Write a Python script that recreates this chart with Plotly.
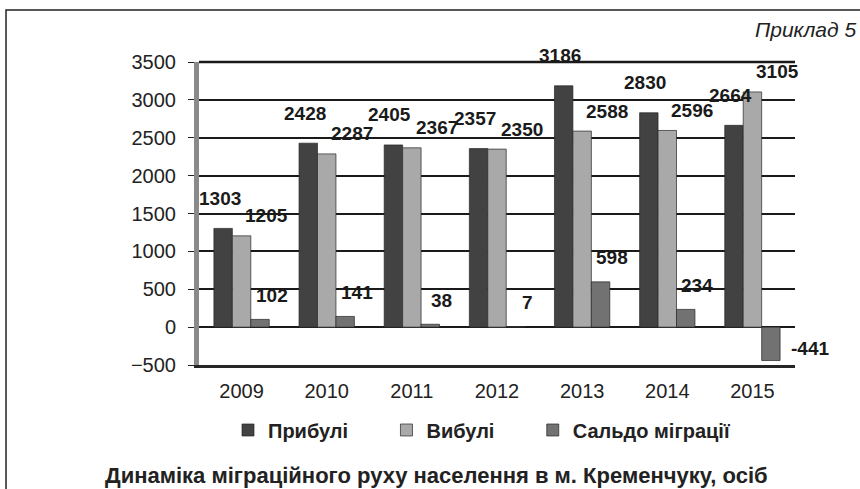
import plotly.graph_objects as go

years = ["2009", "2010", "2011", "2012", "2013", "2014", "2015"]
arrived = [1303, 2428, 2405, 2357, 3186, 2830, 2664]
departed = [1205, 2287, 2367, 2350, 2588, 2596, 3105]
balance = [102, 141, 38, 7, 598, 234, -441]
series_names = ["Прибулі", "Вибулі", "Сальдо міграції"]
y_ticks = [-500, 0, 500, 1000, 1500, 2000, 2500, 3000, 3500]

colors = ["#424242", "#a9a9a9", "#727272"]
label_shift = [(-22, 30), (25, 20), (30, 24)]  # (xshift, yshift) per series, px
FONT = "Liberation Sans, Arial, sans-serif"
PAD = "\u00a0" * 6

fig = go.Figure()
anns = []
for k, (name, vals, col) in enumerate(zip(series_names, [arrived, departed, balance], colors)):
    fig.add_trace(go.Bar(
        x=years, y=vals, name="<b>" + name + "</b>" + (PAD if k < 2 else ""),
        marker=dict(color=col, line=dict(color="#262626", width=0.7)),
        cliponaxis=False,
    ))
    dx, dy = label_shift[k]
    for i, v in enumerate(vals):
        if v >= 0:
            anns.append(dict(text="<b>%d</b>" % v, x=i, y=v, xref="x", yref="y",
                             xshift=dx, yshift=dy, showarrow=False,
                             xanchor="center", yanchor="middle",
                             font=dict(family=FONT, size=19, color="#1a1a1a")))
        else:
            anns.append(dict(text="<b>%d</b>" % v, x=i, y=v, xref="x", yref="y",
                             xshift=58, yshift=12, showarrow=False,
                             xanchor="center", yanchor="middle",
                             font=dict(family=FONT, size=19, color="#1a1a1a")))

anns += [
    dict(text="<i>Приклад 5</i>", xref="paper", yref="paper", x=1.1057, y=1.107,
         xanchor="right", yanchor="middle", showarrow=False,
         font=dict(family=FONT, size=21, color="#222")),
    dict(text="<b>Динаміка міграційного руху населення в м. Кременчуку, осіб</b>",
         xref="paper", yref="paper", x=0.398, y=-0.366, xanchor="center", yanchor="middle",
         showarrow=False, font=dict(family=FONT, size=22, color="#222")),
]

fig.update_layout(
    width=860, height=489,
    margin=dict(l=199, r=65, t=62, b=124),
    paper_bgcolor="white", plot_bgcolor="white",
    barmode="group", bargap=0.35, bargroupgap=0.0,
    font=dict(family=FONT, size=20, color="#222"),
    showlegend=True,
    legend=dict(orientation="h", x=0.474, xanchor="center", y=-0.2145, yanchor="middle",
                font=dict(family=FONT, size=20, color="#222"), itemwidth=30,
                traceorder="normal"),
    xaxis=dict(type="category", range=[-0.5, 6.5], showline=True, linecolor="#262626",
               linewidth=3, ticks="", tickfont=dict(size=20, color="#222"),
               ticklabelstandoff=6),
    yaxis=dict(range=[-500, 3500], tickvals=y_ticks, showgrid=True, gridcolor="#1a1a1a",
               gridwidth=1.6, zeroline=True, zerolinecolor="#1a1a1a", zerolinewidth=1.6,
               showline=True, linecolor="#8a8a8a", linewidth=5, ticks="outside", ticklen=6,
               tickcolor="#222", tickfont=dict(size=20, color="#222"), ticklabelstandoff=8),
    shapes=[
        dict(type="rect", xref="paper", yref="paper", x0=-0.3238, x1=1.3,
             y0=-0.6, y1=1.1716, line=dict(color="#222", width=1.5)),
        dict(type="line", xref="paper", yref="paper", x0=0, x1=1, y0=1, y1=1,
             line=dict(color="#1a1a1a", width=2.5)),
    ],
    annotations=anns,
)

fig.write_html("out.html", config={"displayModeBar": False},
               post_script="document.body.style.margin='0px';document.body.style.overflow='hidden';")
